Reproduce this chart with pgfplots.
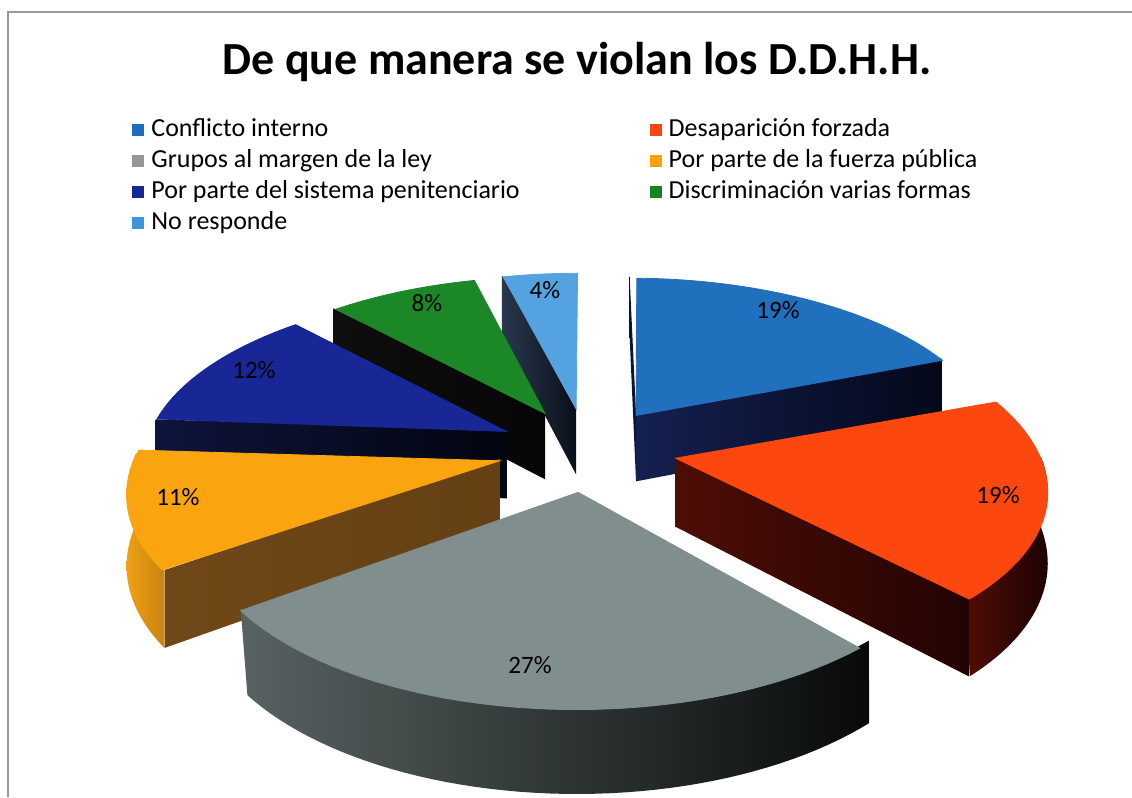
\documentclass[border=0pt]{standalone}
\usepackage{pgfplots}
\pgfplotsset{compat=1.18}
\usepackage{fontspec}
\setmainfont{Carlito}

% top faces
\definecolor{cA}{RGB}{32,112,190}
\definecolor{cB}{RGB}{252,72,14}
\definecolor{cC}{RGB}{128,142,142}
\definecolor{cD}{RGB}{250,165,15}
\definecolor{cE}{RGB}{24,38,150}
\definecolor{cF}{RGB}{28,135,38}
\definecolor{cG}{RGB}{85,162,225}
% walls
\definecolor{wA1}{RGB}{20,32,80}\definecolor{wA2}{RGB}{4,8,25}
\definecolor{wA0}{RGB}{10,20,55}
\definecolor{wB1}{RGB}{78,14,6}\definecolor{wB2}{RGB}{35,3,3}
\definecolor{wC1}{RGB}{88,98,98}\definecolor{wC2}{RGB}{8,10,10}
\definecolor{wD1}{RGB}{112,72,24}\definecolor{wD2}{RGB}{100,64,20}
\definecolor{oD1}{RGB}{238,160,22}\definecolor{oD2}{RGB}{200,132,14}
\definecolor{oB1}{RGB}{80,14,6}\definecolor{oB2}{RGB}{30,2,2}
\definecolor{wE1}{RGB}{14,20,60}\definecolor{wE2}{RGB}{3,5,15}
\definecolor{wF1}{RGB}{14,14,14}\definecolor{wF2}{RGB}{6,6,6}
\definecolor{wG1}{RGB}{10,15,25}\definecolor{wG2}{RGB}{40,56,78}
% legend
\definecolor{lA}{RGB}{30,110,190}
\definecolor{lB}{RGB}{250,70,20}
\definecolor{lC}{RGB}{150,150,150}
\definecolor{lD}{RGB}{255,160,10}
\definecolor{lE}{RGB}{20,40,150}
\definecolor{lF}{RGB}{20,130,40}
\definecolor{lG}{RGB}{60,150,220}

% projection constants (pixel units)
\def\CX{587}\def\CY{449}\def\RR{362}\def\KK{0.465}\def\QQ{0.00043}\def\HH{68}\def\DD{90}\def\HT{-2}

\newcommand\setslice[2]{%
  \pgfmathsetmacro\sb{#1}\pgfmathsetmacro\sa{#2}%
  \pgfmathsetmacro\sm{(#1+#2)/2}%
  \pgfmathsetmacro\ox{\DD*cos(\sm)}\pgfmathsetmacro\oy{\DD*sin(\sm)}%
}
\newcommand\topface[1]{%
  \addplot[forget plot, draw=#1, line width=0.4pt, fill=#1, samples at={0,0.02,...,1,2}]
   ({\CX+(\ox+\RR*(x<1.5)*cos(\sb+(\sa-\sb)*min(x,1)))/(1+\QQ*(\oy+\RR*(x<1.5)*sin(\sb+(\sa-\sb)*min(x,1))))},
    {\CY+(-\KK*(\oy+\RR*(x<1.5)*sin(\sb+(\sa-\sb)*min(x,1))))/(1+\QQ*(\oy+\RR*(x<1.5)*sin(\sb+(\sa-\sb)*min(x,1))))}) -- cycle;
}
\newcommand\outerwall[4]{%
  \pgfmathsetmacro\wa{#1}\pgfmathsetmacro\wb{#2}%
  \addplot[forget plot, draw=none, left color=#3, right color=#4, samples at={0,0.02,...,0.98,0.999,1,1.02,...,2}]
   ({\CX+(\ox+\RR*cos(\wa+(\wb-\wa)*min(x,2-x)))/(1+\QQ*(\oy+\RR*sin(\wa+(\wb-\wa)*min(x,2-x))))},
    {\CY+(-\KK*(\oy+\RR*sin(\wa+(\wb-\wa)*min(x,2-x)))+\HT+(\HH-\HT)*(x>0.9995))/(1+\QQ*(\oy+\RR*sin(\wa+(\wb-\wa)*min(x,2-x))))});
}
\newcommand\radialwall[3]{%
  \pgfmathsetmacro\wt{#1}%
  \addplot[forget plot, draw=none, left color=#2, right color=#3, samples at={0,1,2,3}]
   ({\CX+(\ox+\RR*(x>0.5)*(x<2.5)*cos(\wt))/(1+\QQ*(\oy+\RR*(x>0.5)*(x<2.5)*sin(\wt)))},
    {\CY+(-\KK*(\oy+\RR*(x>0.5)*(x<2.5)*sin(\wt))+\HT+(\HH-\HT)*(x>1.5))/(1+\QQ*(\oy+\RR*(x>0.5)*(x<2.5)*sin(\wt)))});
}

\begin{document}
\begin{tikzpicture}
% data: shares in percent
\def\vA{19}\def\vB{19}\def\vC{27}\def\vD{11}\def\vE{12}\def\vF{8}\def\vG{4}
\pgfmathsetmacro\aA{90}
\pgfmathsetmacro\aB{\aA-3.6*\vA}
\pgfmathsetmacro\aC{\aB-3.6*\vB}
\pgfmathsetmacro\aD{\aC-3.6*\vC}
\pgfmathsetmacro\aE{\aD-3.6*\vD}
\pgfmathsetmacro\aF{\aE-3.6*\vE}
\pgfmathsetmacro\aG{\aF-3.6*\vF}
\pgfmathsetmacro\aH{\aG-3.6*\vG}
\begin{axis}[
  scale only axis, width=566pt, height=398.5pt,
  xmin=0, xmax=1132, ymin=0, ymax=797, y dir=reverse,
  axis lines=none, ticks=none,
  legend columns=2,
  legend cell align=left,
  legend image code/.code={\fill[draw=none,#1] (0pt,-3pt) rectangle (6pt,3pt);},
  legend style={at={(axis cs:132,118)}, anchor=north west, draw=none, fill=none,
    inner sep=0pt, font=\fontsize{13}{15}\selectfont,
    column sep=3.5pt, row sep=3.5pt,
    nodes={inner sep=0pt, text height=9pt, text depth=3pt},
    /tikz/every even column/.append style={column sep=65pt}},
]
\path (axis cs:0,0) rectangle (axis cs:1132,797);
\addlegendimage{fill=lA, draw=none}\addlegendentry{Conflicto interno}
\addlegendimage{fill=lB, draw=none}\addlegendentry{Desaparición forzada}
\addlegendimage{fill=lC, draw=none}\addlegendentry{Grupos al margen de la ley}
\addlegendimage{fill=lD, draw=none}\addlegendentry{Por parte de la fuerza pública}
\addlegendimage{fill=lE, draw=none}\addlegendentry{Por parte del sistema penitenciario}
\addlegendimage{fill=lF, draw=none}\addlegendentry{Discriminación varias formas}
\addlegendimage{fill=lG, draw=none}\addlegendentry{No responde}

% No responde
\setslice{\aH}{\aG}
\radialwall{\aG}{wG2}{wG1}
\topface{cG}
% Discriminacion
\setslice{\aG}{\aF}
\radialwall{\aF}{wF1}{wF2}
\topface{cF}
% Conflicto
\setslice{\aB}{\aA}
\radialwall{\aA}{wA0}{wA0}
\radialwall{\aB}{wA1}{wA2}
\topface{cA}
% Penitenciario
\setslice{\aF}{\aE}
\radialwall{\aE}{wE1}{wE2}
\topface{cE}
% Desaparicion
\setslice{\aC}{\aB}
\outerwall{\aC-0.8}{0}{oB1}{oB2}
\radialwall{\aC}{wB1}{wB2}
\topface{cB}
% Fuerza publica
\setslice{\aE}{\aD}
\radialwall{\aD}{wD1}{wD2}
\outerwall{-182}{\aD}{oD1}{oD2}
\topface{cD}
% Grupos
\setslice{\aD}{\aC}
\outerwall{\aD}{\aC}{wC1}{wC2}
\topface{cC}

\draw[gray!80, line width=0.8pt] (axis cs:8,797) -- (axis cs:8,12) -- (axis cs:1132,12);
\node[font=\fontsize{23}{27}\selectfont\bfseries] at (axis cs:577,62) {De que manera se violan los D.D.H.H.};
\begin{scope}[every node/.style={font=\fontsize{12.5}{15}\selectfont}]
\node at (axis cs:778,310) {19\%};
\node at (axis cs:998,495) {19\%};
\node at (axis cs:530,665) {27\%};
\node at (axis cs:178,497) {11\%};
\node at (axis cs:254,370) {12\%};
\node at (axis cs:427,303) {8\%};
\node at (axis cs:545,290) {4\%};
\end{scope}
\end{axis}
\end{tikzpicture}
\end{document}
